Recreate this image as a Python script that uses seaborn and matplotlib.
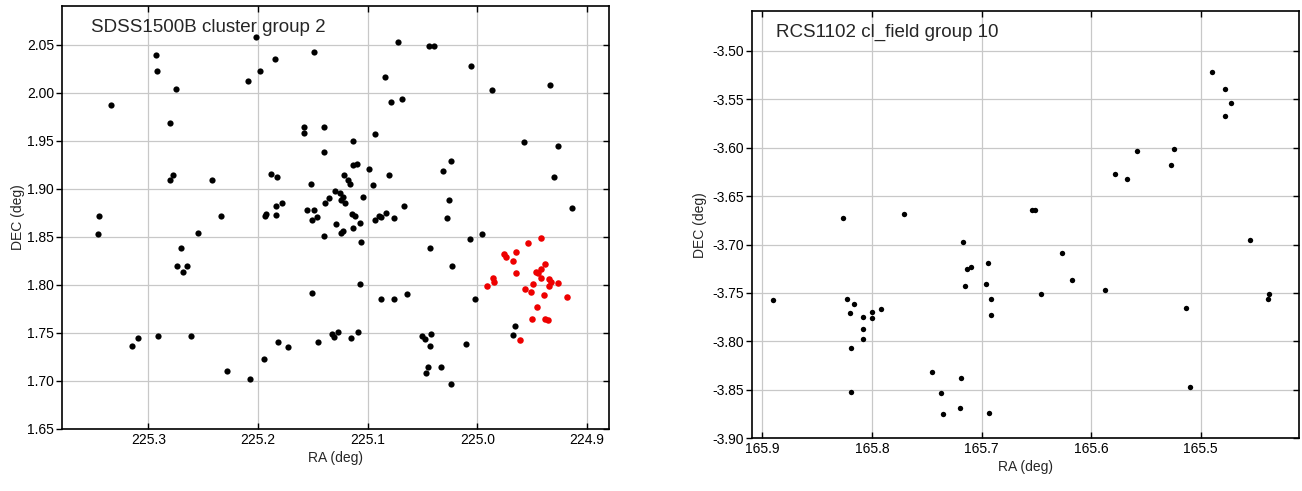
import numpy as np
import pandas as pd
import matplotlib
matplotlib.use("Agg")
import matplotlib.pyplot as plt
from matplotlib.ticker import FormatStrFormatter
import seaborn as sns

# ---------------- data ----------------
# Left panel: SDSS1500B cluster group 2
sdss_field_ra = [
    225.202, 225.293, 225.149, 225.292, 225.185, 225.198, 225.209, 225.275, 225.334, 225.280,
    225.158, 225.158, 225.140, 225.140, 225.278, 225.280, 225.242, 225.188, 225.183, 225.152,
    225.345, 225.234, 225.346, 225.255, 225.270, 225.274, 225.265, 225.268, 225.315, 225.309,
    225.291, 225.261, 225.228, 225.207, 225.195, 225.182, 225.173, 225.151, 225.145, 225.133,
    225.131, 225.127, 225.194, 225.193, 225.184, 225.178, 225.184, 225.155, 225.149, 225.151,
    225.146, 225.139, 225.129, 225.140, 225.135, 225.130, 225.072, 225.044, 225.040, 225.006,
    225.084, 224.987, 224.934, 225.079, 225.069, 225.093, 225.113, 224.958, 224.927, 225.113,
    225.110, 225.099, 225.024, 225.031, 225.122, 225.081, 225.118, 225.116, 225.095, 224.930,
    225.125, 225.123, 225.104, 225.124, 225.121, 225.026, 225.067, 224.914, 225.114, 225.112,
    225.093, 225.090, 225.088, 225.083, 225.076, 225.028, 225.123, 225.124, 225.113, 225.107,
    225.106, 224.996, 225.007, 225.043, 225.023, 225.107, 225.088, 225.076, 225.064, 225.002,
    225.115, 225.109, 225.051, 225.048, 225.042, 225.043, 225.010, 225.045, 225.047, 225.033,
    225.024, 224.966, 224.968,
]
sdss_field_dec = [
    2.058, 2.040, 2.043, 2.023, 2.035, 2.023, 2.012, 2.004, 1.987, 1.969,
    1.965, 1.958, 1.965, 1.938, 1.915, 1.909, 1.909, 1.916, 1.912, 1.905,
    1.872, 1.872, 1.853, 1.854, 1.838, 1.820, 1.820, 1.814, 1.736, 1.745,
    1.747, 1.747, 1.710, 1.702, 1.723, 1.741, 1.735, 1.792, 1.741, 1.749,
    1.746, 1.751, 1.872, 1.874, 1.882, 1.885, 1.873, 1.878, 1.878, 1.868,
    1.871, 1.885, 1.863, 1.851, 1.891, 1.898, 2.053, 2.049, 2.049, 2.028,
    2.017, 2.003, 2.008, 1.991, 1.994, 1.957, 1.950, 1.949, 1.945, 1.925,
    1.926, 1.921, 1.929, 1.919, 1.915, 1.915, 1.909, 1.905, 1.904, 1.912,
    1.896, 1.892, 1.892, 1.888, 1.885, 1.888, 1.882, 1.880, 1.874, 1.872,
    1.868, 1.872, 1.871, 1.875, 1.870, 1.870, 1.856, 1.854, 1.859, 1.865,
    1.845, 1.853, 1.848, 1.838, 1.820, 1.801, 1.785, 1.785, 1.791, 1.785,
    1.745, 1.751, 1.747, 1.744, 1.749, 1.736, 1.739, 1.715, 1.708, 1.715,
    1.697, 1.757, 1.748,
]
sdss_group_ra = [
    224.942, 224.954, 224.965, 224.976, 224.974, 224.968, 224.938, 224.942, 224.947, 224.945,
    224.965, 224.942, 224.986, 224.985, 224.935, 224.933, 224.927, 224.949, 224.935, 224.991,
    224.957, 224.951, 224.939, 224.918, 224.946, 224.950, 224.938, 224.936, 224.961,
]
sdss_group_dec = [
    1.849, 1.844, 1.834, 1.832, 1.829, 1.825, 1.822, 1.817, 1.813, 1.812,
    1.812, 1.807, 1.807, 1.803, 1.806, 1.803, 1.802, 1.801, 1.799, 1.799,
    1.796, 1.793, 1.790, 1.788, 1.777, 1.765, 1.765, 1.764, 1.743,
]

# Right panel: RCS1102 cl_field group 10
rcs_ra = [
    165.826, 165.771, 165.654, 165.651, 165.490, 165.478, 165.472, 165.478, 165.558, 165.524,
    165.527, 165.578, 165.567, 165.717, 165.694, 165.713, 165.710, 165.715, 165.696, 165.691,
    165.691, 165.890, 165.823, 165.816, 165.820, 165.800, 165.792, 165.808, 165.800, 165.808,
    165.808, 165.819, 165.819, 165.745, 165.719, 165.737, 165.735, 165.720, 165.693, 165.627,
    165.617, 165.646, 165.587, 165.455, 165.438, 165.439, 165.513, 165.510,
]
rcs_dec = [
    -3.673, -3.669, -3.664, -3.664, -3.522, -3.540, -3.554, -3.567, -3.603, -3.601,
    -3.618, -3.627, -3.632, -3.697, -3.719, -3.725, -3.723, -3.743, -3.741, -3.756,
    -3.773, -3.757, -3.756, -3.761, -3.771, -3.770, -3.767, -3.775, -3.776, -3.787,
    -3.798, -3.807, -3.852, -3.832, -3.838, -3.853, -3.875, -3.869, -3.874, -3.709,
    -3.737, -3.751, -3.747, -3.695, -3.751, -3.756, -3.765, -3.847,
]

left_title = "SDSS1500B cluster group 2"
right_title = "RCS1102 cl_field group 10"
x_label = "RA (deg)"
y_label = "DEC (deg)"
left_xticks = [225.3, 225.2, 225.1, 225.0, 224.9]
left_yticks = [1.65, 1.70, 1.75, 1.80, 1.85, 1.90, 1.95, 2.00, 2.05]
right_xticks = [165.9, 165.8, 165.7, 165.6, 165.5]
right_yticks = [-3.90, -3.85, -3.80, -3.75, -3.70, -3.65, -3.60, -3.55, -3.50]

# ---------------- style ----------------
sns.set_style("white")
plt.rcParams['font.family'] = ['Liberation Sans', 'DejaVu Sans']
plt.rcParams['axes.unicode_minus'] = False

fig = plt.figure(figsize=(13.02, 4.91), dpi=100)
axL = fig.add_axes([0.0474, 0.1263, 0.4204, 0.8615])
axR = fig.add_axes([0.5773, 0.1073, 0.4207, 0.8703])

df_field = pd.DataFrame({"ra": sdss_field_ra, "dec": sdss_field_dec})
df_group = pd.DataFrame({"ra": sdss_group_ra, "dec": sdss_group_dec})
df_rcs = pd.DataFrame({"ra": rcs_ra, "dec": rcs_dec})

sns.scatterplot(data=df_field, x="ra", y="dec", color="black", s=20, linewidth=0, ax=axL, zorder=3)
sns.scatterplot(data=df_group, x="ra", y="dec", color="#ee0000", s=22, linewidth=0, ax=axL, zorder=4)
sns.scatterplot(data=df_rcs, x="ra", y="dec", color="black", s=15, linewidth=0, ax=axR, zorder=3)

def style_axes(ax, xlim, ylim, xticks, yticks, yfmt, title, tx, ty, ylabx, xlaby):
    ax.set_xlim(*xlim)
    ax.set_ylim(*ylim)
    ax.set_xticks(xticks)
    ax.set_yticks(yticks)
    ax.xaxis.set_major_formatter(FormatStrFormatter("%.1f"))
    ax.yaxis.set_major_formatter(FormatStrFormatter(yfmt))
    ax.grid(True, color="#c8c8c8", linewidth=0.9, zorder=0)
    ax.set_axisbelow(True)
    for sp in ax.spines.values():
        sp.set_visible(True)
        sp.set_color("black")
        sp.set_linewidth(1.2)
    ax.tick_params(axis="x", which="both", direction="in", top=True, bottom=True,
                   length=4, width=1.0, labelsize=10, pad=3, colors="black")
    ax.tick_params(axis="y", which="both", direction="out", left=True, right=True,
                   length=4, width=1.0, labelsize=10, pad=1.5, colors="black")
    for t in ax.yaxis.get_major_ticks():
        t.tick2line.set_marker(matplotlib.lines.TICKLEFT)
    ax.set_xlabel(x_label, fontsize=10)
    ax.set_ylabel(y_label, fontsize=10)
    ax.xaxis.set_label_coords(0.5, xlaby)
    ax.yaxis.set_label_coords(ylabx, 0.5)
    ax.text(tx, ty, title, transform=ax.transAxes, fontsize=13.5, ha="left", va="baseline")

style_axes(axL, (225.379, 224.880), (1.65, 2.0906), left_xticks, left_yticks, "%.2f",
           left_title, 0.053, 0.9378, -0.0676, -0.052)
style_axes(axR, (165.9097, 165.410), (-3.90, -3.459), right_xticks, right_yticks, "%.2f",
           right_title, 0.0438, 0.9399, -0.0816, -0.0508)

fig.savefig("out.png", dpi=100)
